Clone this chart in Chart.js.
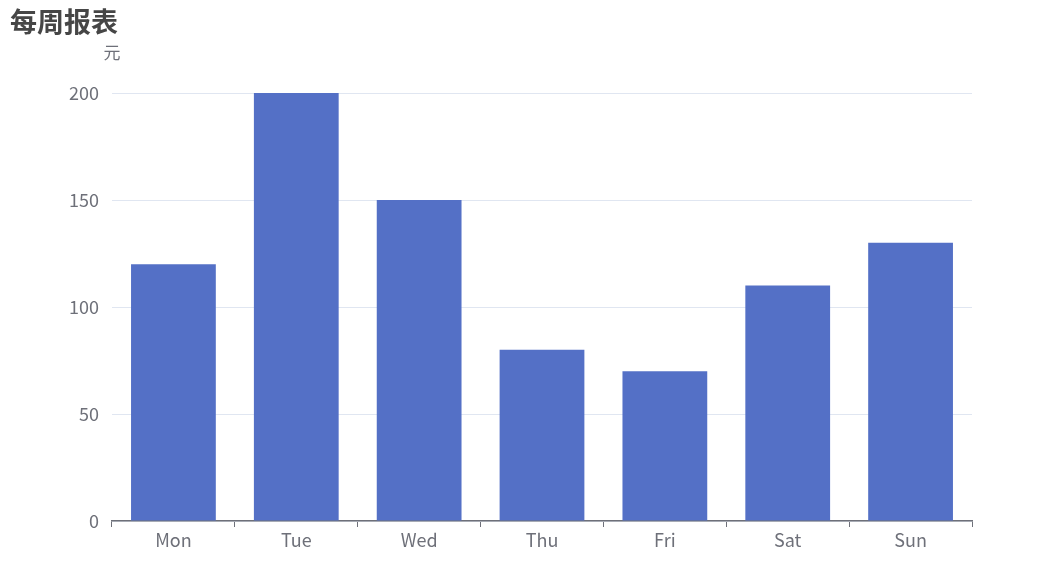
<!DOCTYPE html>
<html>
<head>
<meta charset="utf-8">
<script src="https://cdn.jsdelivr.net/npm/chart.js@4"></script>
<style>
  html, body { margin: 0; padding: 0; background: #fff; }
  #wrap { width: 1049px; height: 566px; }
</style>
</head>
<body>
<div id="wrap"><canvas id="chart" width="1049" height="566"></canvas></div>
<script>
'use strict';

const chartTitle = '每周报表';
const yName = '元';
const days = ['Mon', 'Tue', 'Wed', 'Thu', 'Fri', 'Sat', 'Sun'];
const amounts = [120, 200, 150, 80, 70, 110, 130];

const fontFamily = '"Microsoft YaHei", "Noto Sans CJK SC", "Noto Sans", sans-serif';

// draws the title and the axis name
const textPlugin = {
  id: 'texts',
  afterDraw(chart) {
    const ctx = chart.ctx;
    const area = chart.chartArea;
    ctx.save();
    ctx.fillStyle = '#464646';
    ctx.font = 'bold 27px ' + fontFamily;
    ctx.textBaseline = 'middle';
    ctx.textAlign = 'left';
    ctx.fillText(chartTitle, 10, 22);
    ctx.fillStyle = '#6e7079';
    ctx.font = '17px ' + fontFamily;
    ctx.textAlign = 'center';
    ctx.fillText(yName, area.left, 53);
    ctx.restore();
  }
};

new Chart(document.getElementById('chart'), {
  type: 'bar',
  data: {
    labels: days,
    datasets: [{
      data: amounts,
      backgroundColor: '#5470c6',
      barPercentage: 0.69,
      categoryPercentage: 1
    }]
  },
  options: {
    responsive: false,
    animation: false,
    layout: { padding: { top: 93, right: 77, left: 0, bottom: 0 } },
    plugins: {
      legend: { display: false },
      tooltip: { enabled: false },
      title: { display: false }
    },
    scales: {
      x: {
        afterFit(scale) { scale.height = 45; },
        border: { display: true, color: '#6e7079', width: 1.5 },
        grid: {
          offset: true,
          drawOnChartArea: false,
          drawTicks: true,
          tickLength: 6,
          color: '#6e7079'
        },
        ticks: {
          color: '#6e7079',
          padding: 2,
          font: { size: 18, family: fontFamily }
        }
      },
      y: {
        min: 0,
        max: 200,
        afterFit(scale) { scale.width = 112; },
        border: { display: false },
        grid: { color: '#e0e6f1', drawTicks: false },
        ticks: {
          stepSize: 50,
          color: '#6e7079',
          padding: 13,
          font: { size: 18, family: fontFamily }
        }
      }
    }
  },
  plugins: [textPlugin]
});
</script>
</body>
</html>
